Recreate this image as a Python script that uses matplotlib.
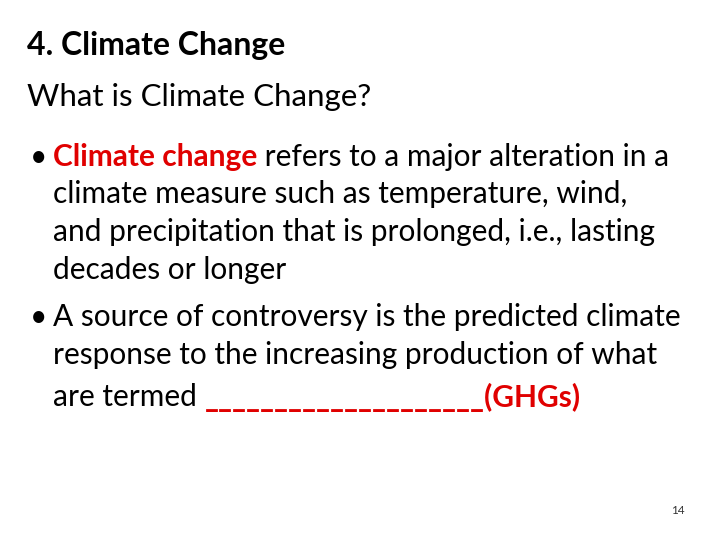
import matplotlib
matplotlib.use("Agg")
import matplotlib.pyplot as plt

title = "4. Climate Change"
subtitle = "What is Climate Change?"
lines = [
    [(30, 157, "•", "k", "normal"), (53, 157, "Climate change", "#e00000", "bold"), (None, 157, " refers to a major alteration in a", "k", "normal")],
    [(53, 194, "climate measure such as temperature, wind,", "k", "normal")],
    [(53, 232, "and precipitation that is prolonged, i.e., lasting", "k", "normal")],
    [(53, 270, "decades or longer", "k", "normal")],
    [(30, 317, "•", "k", "normal"), (53, 317, "A source of controversy is the predicted climate", "k", "normal")],
    [(53, 355, "response to the increasing production of what", "k", "normal")],
    [(53, 397, "are termed ", "k", "normal"), (None, 397, "____________________(GHGs)", "#e00000", "bold")],
]

fig = plt.figure(figsize=(7.2, 5.4), dpi=100)
fig.patch.set_facecolor("white")
W, H = 720, 540
fam = ["Lato", "DejaVu Sans"]
fig.text(27/W, 1-45/H, title, fontsize=23, fontweight="bold", family=fam, va="center")
fig.text(27/W, 1-97/H, subtitle, fontsize=22.5, family=fam, va="center")
fig.canvas.draw()
r = fig.canvas.get_renderer()
for line in lines:
    xcur = None
    for x, y, s, c, w in line:
        if x is None:
            x = xcur
        t = fig.text(x/W, 1-y/H, s, fontsize=21.5, family=fam, color=c, fontweight=w, va="center")
        bb = t.get_window_extent(renderer=r)
        xcur = bb.x1
fig.text(671/W, 1-510/H, "14", fontsize=8.5, family=fam, color="#333333", va="center")
fig.savefig("out.png", dpi=100)
